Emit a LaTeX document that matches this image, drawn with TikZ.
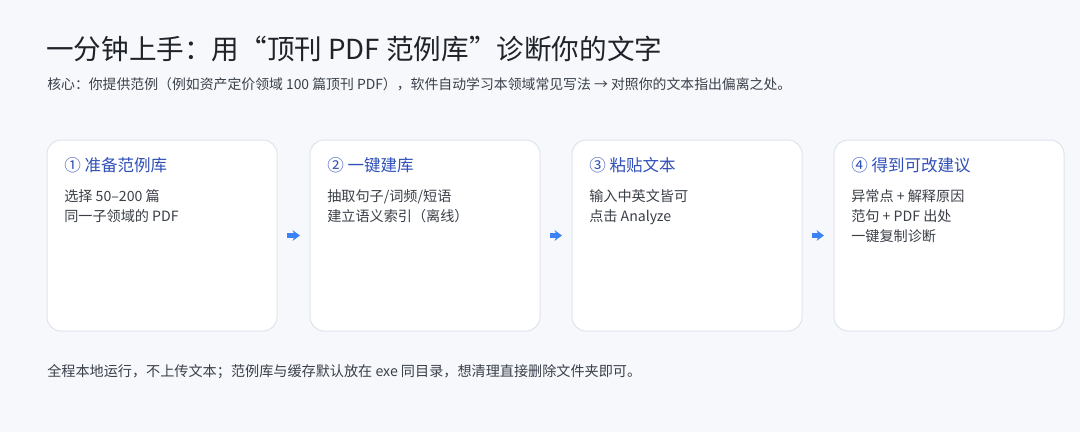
\documentclass[tikz,border=0pt]{standalone}
\usepackage{fontspec}
\setmainfont{Noto Sans CJK SC}
\usetikzlibrary{arrows.meta}
\definecolor{bg}{HTML}{F6F8FB}
\definecolor{cardline}{HTML}{DFE4EB}
\definecolor{titlec}{HTML}{1F2329}
\definecolor{subc}{HTML}{3A404A}
\definecolor{bluec}{HTML}{3050B8}
\definecolor{bodyc}{HTML}{3A3F47}
\definecolor{arrowc}{HTML}{3B82F6}
\begin{document}
\begin{tikzpicture}[x=0.75pt,y=-0.75pt,
  card/.style={draw=cardline, line width=0.75pt, fill=white, rounded corners=10.5pt,
    minimum width=172.5pt, minimum height=143.25pt, inner sep=0pt},
  cardtitle/.style={anchor=west, inner sep=0pt, text=bluec, font=\fontsize{12.4}{15}\selectfont},
  cardbody/.style={anchor=north west, inner sep=0pt, align=left, text=bodyc, font=\fontsize{10.6}{15}\selectfont},
  flow/.style={draw=arrowc, line width=3.4pt, -{Stealth[length=5.5pt,width=8pt]}, shorten <=7.2pt, shorten >=7.2pt},
  note/.style={anchor=west, inner sep=0pt, text=subc, font=\fontsize{10.6}{13}\selectfont}]
\fill[bg] (0,0) rectangle (1080,432);
\useasboundingbox (0,0) rectangle (1080,432);

\node[anchor=west, inner sep=0pt, text=titlec, font=\fontsize{20.7}{25}\selectfont] (title) at (46,49)
  {一分钟上手：用“顶刊 PDF 范例库”诊断你的文字};
\node[note, font=\fontsize{10.4}{13}\selectfont] (sub) at (47,84)
  {核心：你提供范例（例如资产定价领域 100 篇顶刊 PDF），软件自动学习本领域常见写法 → 对照你的文本指出偏离之处。};

\node[card] (c1) at (162,235.5) {};
\node[card] (c2) at (425,235.5) {};
\node[card] (c3) at (687,235.5) {};
\node[card] (c4) at (949,235.5) {};

\node[cardtitle] (t1) at (64,165) {① 准备范例库};
\node[cardtitle] (t2) at (327,165) {② 一键建库};
\node[cardtitle] (t3) at (589,165) {③ 粘贴文本};
\node[cardtitle] (t4) at (851,165) {④ 得到可改建议};

\node[cardbody] (b1) at (64,189.5) {选择 50–200 篇\\同一子领域的 PDF};
\node[cardbody] (b2) at (327,189.5) {抽取句子/词频/短语\\建立语义索引（离线）};
\node[cardbody] (b3) at (589,189.5) {输入中英文皆可\\点击 Analyze};
\node[cardbody] (b4) at (851,189.5) {异常点 + 解释原因\\范句 + PDF 出处\\一键复制诊断};

\draw[flow] (c1.east) -- (c2.west);
\draw[flow] (c2.east) -- (c3.west);
\draw[flow] (c3.east) -- (c4.west);

\node[note] (foot) at (47,372)
  {全程本地运行，不上传文本；范例库与缓存默认放在 exe 同目录，想清理直接删除文件夹即可。};
\end{tikzpicture}
\end{document}
